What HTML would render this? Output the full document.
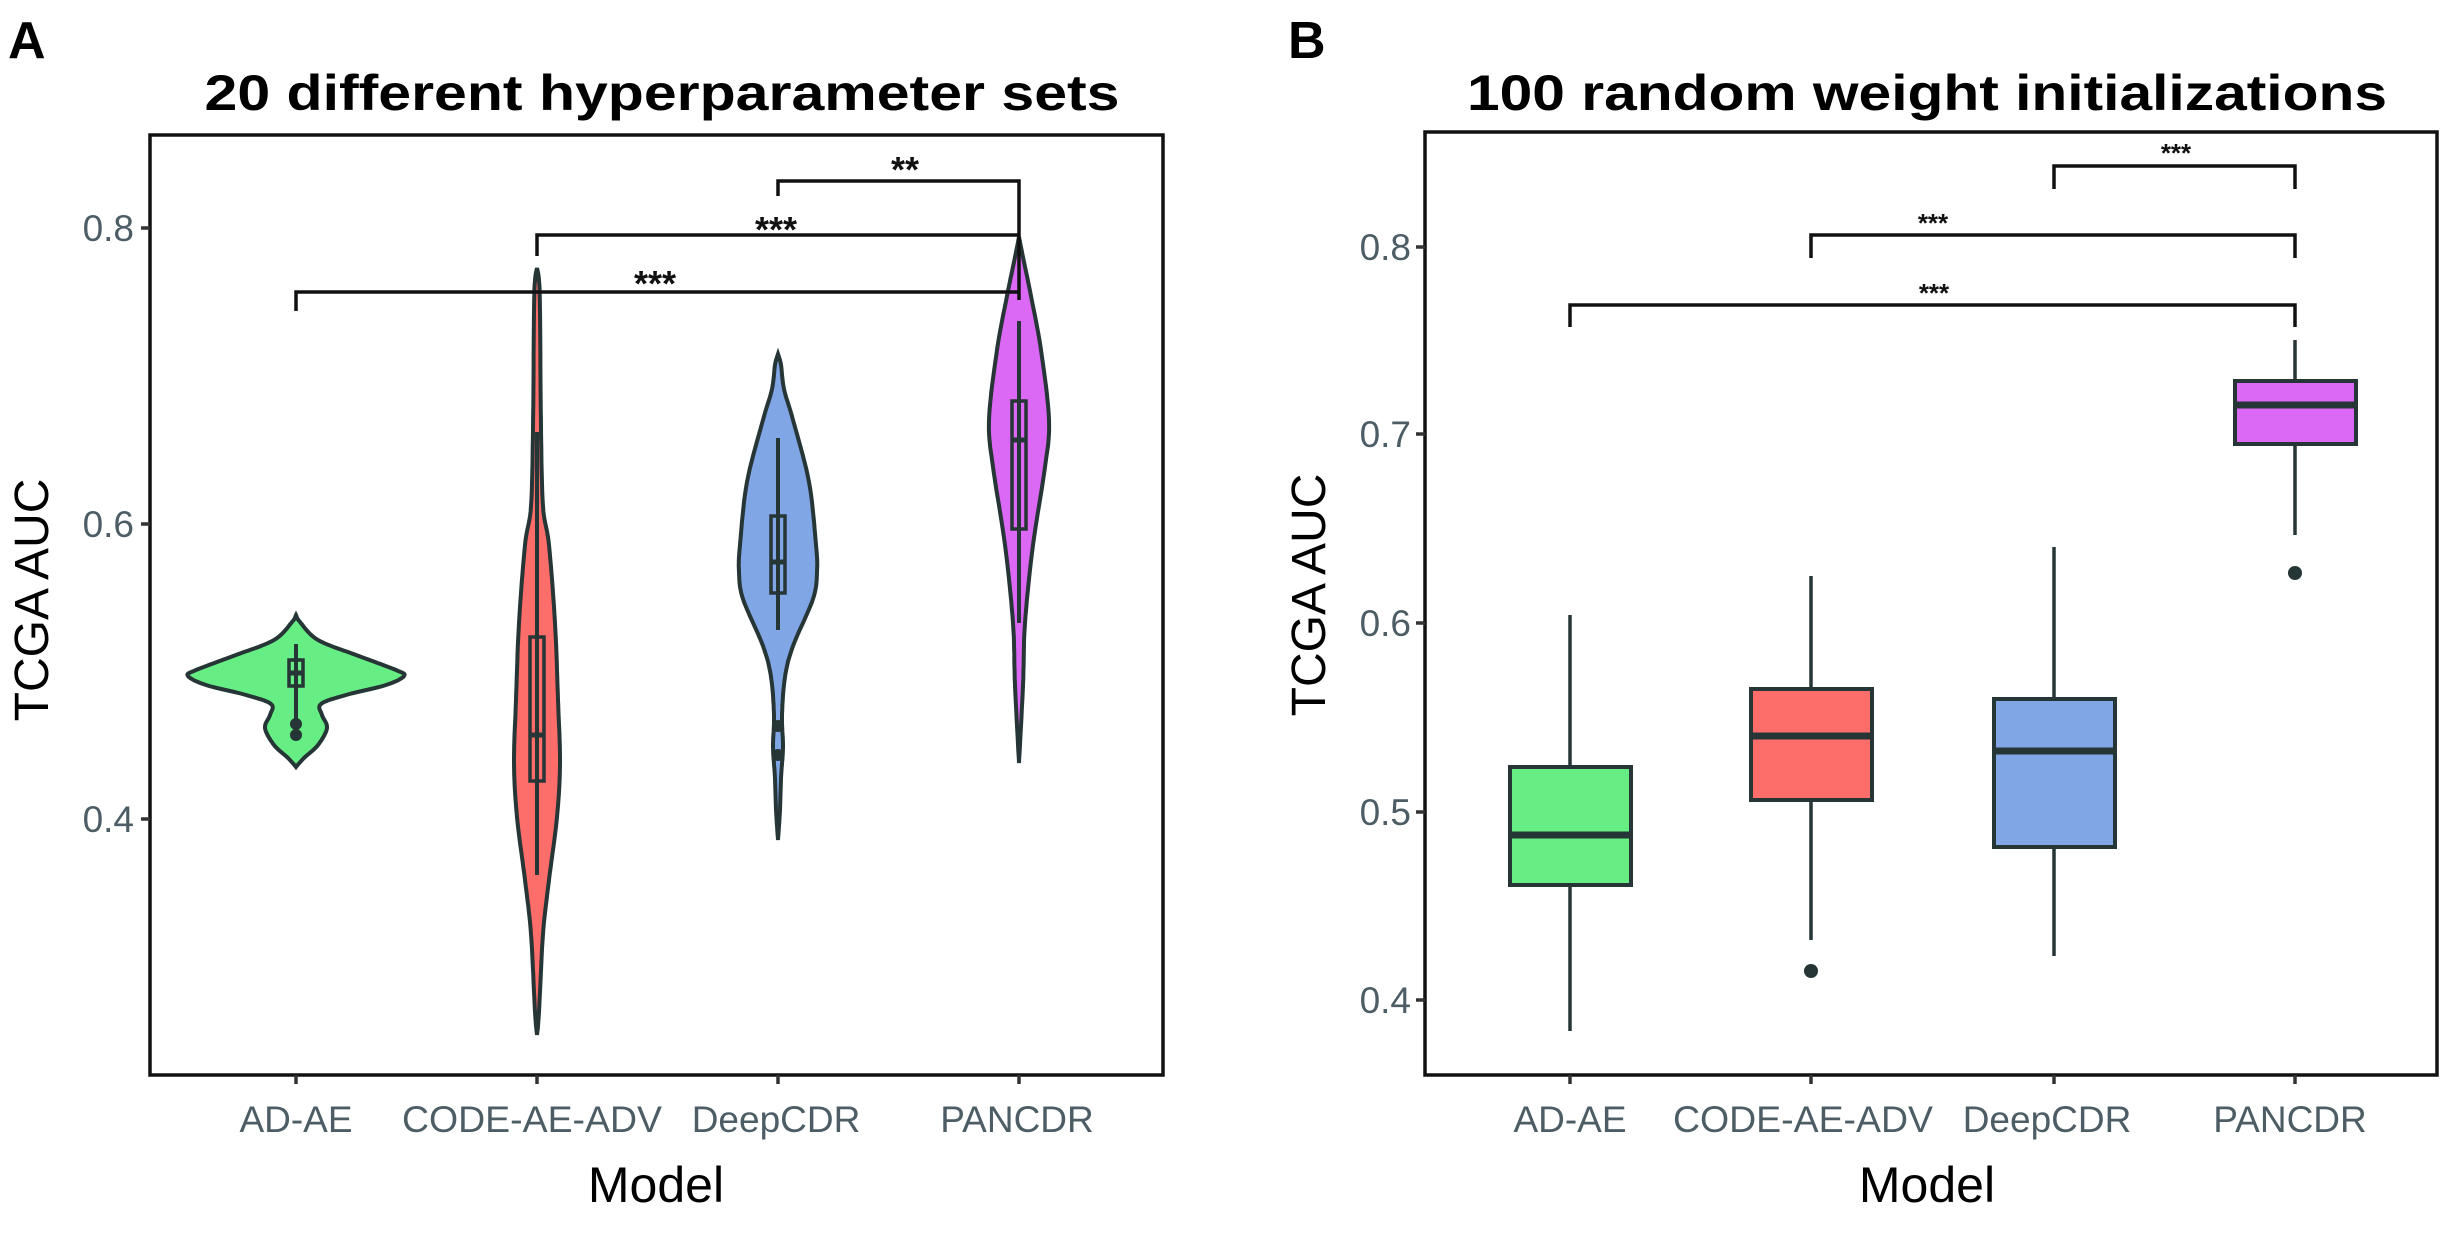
<!DOCTYPE html>
<html><head><meta charset="utf-8"><style>html,body{margin:0;padding:0;background:#fff}svg{display:block}</style></head>
<body>
<svg id="s" width="2440" height="1260" viewBox="0 0 2440 1260" xmlns="http://www.w3.org/2000/svg" font-family="Liberation Sans, sans-serif">
<rect width="2440" height="1260" fill="#fff"/>
<!-- Panel A -->
<text x="8" y="58" font-size="52" font-weight="bold">A</text>
<text x="662" y="110" font-size="50" font-weight="bold" text-anchor="middle" textLength="915" lengthAdjust="spacingAndGlyphs">20 different hyperparameter sets</text>
<rect x="150" y="135" width="1013" height="940" fill="none" stroke="#111" stroke-width="3.5"/>
<g fill="#4d5d66" font-size="37" text-anchor="end">
<text x="134" y="241">0.8</text><text x="134" y="537">0.6</text><text x="134" y="832">0.4</text></g>
<g stroke="#333" stroke-width="3.5"><line x1="141" y1="228" x2="150" y2="228"/><line x1="141" y1="524" x2="150" y2="524"/><line x1="141" y1="819" x2="150" y2="819"/>
<line x1="296" y1="1075" x2="296" y2="1084"/><line x1="537" y1="1075" x2="537" y2="1084"/><line x1="778" y1="1075" x2="778" y2="1084"/><line x1="1019" y1="1075" x2="1019" y2="1084"/></g>
<g fill="#4d5d66" font-size="37" text-anchor="middle">
<text x="296" y="1132">AD-AE</text><text x="532" y="1132" textLength="260" lengthAdjust="spacingAndGlyphs">CODE-AE-ADV</text><text x="776" y="1132">DeepCDR</text><text x="1017" y="1132">PANCDR</text></g>
<text x="656" y="1202" font-size="50" text-anchor="middle">Model</text>
<text transform="translate(48,600) rotate(-90)" font-size="48" text-anchor="middle">TCGA AUC</text>
<g id="violins"></g>
<g stroke="#111" stroke-width="3.5" fill="none">
<polyline points="778,196 778,181 1019,181 1019,300"/>
<polyline points="537,256 537,235 1019,235"/>
<polyline points="296,311 296,292 1019,292"/>
</g>
<g font-size="36" font-weight="bold" text-anchor="middle" fill="#111">
<text x="905" y="182">**</text><text x="776" y="242">***</text><text x="655" y="296">***</text></g>

<!-- Panel B -->
<text x="1288" y="58" font-size="52" font-weight="bold">B</text>
<text x="1927" y="110" font-size="50" font-weight="bold" text-anchor="middle" textLength="920" lengthAdjust="spacingAndGlyphs">100 random weight initializations</text>
<rect x="1425" y="132" width="1012" height="943" fill="none" stroke="#111" stroke-width="3.5"/>
<g fill="#4d5d66" font-size="37" text-anchor="end">
<text x="1411" y="260">0.8</text><text x="1411" y="447">0.7</text><text x="1411" y="636">0.6</text><text x="1411" y="825">0.5</text><text x="1411" y="1013">0.4</text></g>
<g stroke="#333" stroke-width="3.5"><line x1="1416" y1="247" x2="1425" y2="247"/><line x1="1416" y1="434" x2="1425" y2="434"/><line x1="1416" y1="623" x2="1425" y2="623"/><line x1="1416" y1="812" x2="1425" y2="812"/><line x1="1416" y1="1000" x2="1425" y2="1000"/>
<line x1="1570" y1="1075" x2="1570" y2="1084"/><line x1="1811" y1="1075" x2="1811" y2="1084"/><line x1="2054" y1="1075" x2="2054" y2="1084"/><line x1="2295" y1="1075" x2="2295" y2="1084"/></g>
<g fill="#4d5d66" font-size="37" text-anchor="middle">
<text x="1570" y="1132">AD-AE</text><text x="1803" y="1132" textLength="260" lengthAdjust="spacingAndGlyphs">CODE-AE-ADV</text><text x="2047" y="1132">DeepCDR</text><text x="2290" y="1132">PANCDR</text></g>
<text x="1927" y="1202" font-size="50" text-anchor="middle">Model</text>
<text transform="translate(1325,595) rotate(-90)" font-size="48" text-anchor="middle">TCGA AUC</text>
<g stroke="#263535" stroke-width="3.5">
<line x1="1570" y1="615" x2="1570" y2="1031"/><line x1="1811" y1="576" x2="1811" y2="940"/><line x1="2054" y1="547" x2="2054" y2="956"/><line x1="2295" y1="340" x2="2295" y2="535"/>
<rect x="1510" y="767" width="121" height="118" fill="#66ee84" stroke-width="4"/>
<rect x="1751" y="689" width="121" height="111" fill="#fd6d6a" stroke-width="4"/>
<rect x="1994" y="699" width="121" height="148" fill="#80a6e6" stroke-width="4"/>
<rect x="2235" y="381" width="121" height="63" fill="#dc69f5" stroke-width="4"/>
</g>
<g stroke="#263535" stroke-width="7">
<line x1="1510" y1="835" x2="1631" y2="835"/><line x1="1751" y1="736" x2="1872" y2="736"/><line x1="1994" y1="751" x2="2115" y2="751"/><line x1="2235" y1="405" x2="2356" y2="405"/></g>
<circle cx="1811" cy="971" r="7" fill="#263535"/><circle cx="2295" cy="573" r="7" fill="#263535"/>
<g stroke="#111" stroke-width="3.5" fill="none">
<polyline points="2054,189 2054,166 2295,166 2295,189"/>
<polyline points="1811,258 1811,235 2295,235 2295,258"/>
<polyline points="1570,327 1570,305 2295,305 2295,327"/></g>
<g font-size="26" font-weight="bold" text-anchor="middle" fill="#111">
<text x="2176" y="162">***</text><text x="1933" y="232">***</text><text x="1934" y="302">***</text></g>
</svg>
<script>
function cr(pts){
 var out=[];for(var i=0;i<pts.length-1;i++){var p0=pts[Math.max(0,i-1)],p1=pts[i],p2=pts[i+1],p3=pts[Math.min(pts.length-1,i+2)];
 for(var t=0;t<1;t+=0.1){var t2=t*t,t3=t2*t;var f=function(a,b,c,d){return 0.5*((2*b)+(-a+c)*t+(2*a-5*b+4*c-d)*t2+(-a+3*b-3*c+d)*t3)};
 out.push([f(p0[0],p1[0],p2[0],p3[0]),Math.max(0,f(p0[1],p1[1],p2[1],p3[1]))]);}}
 out.push(pts[pts.length-1]);return out;}
function violin(cx,pts,fill){var s=cr(pts);var d="M";s.forEach(function(p,i){d+=(i?"L":"")+(cx+p[1]).toFixed(1)+","+p[0].toFixed(1)});
 for(var i=s.length-1;i>=0;i--)d+="L"+(cx-s[i][1]).toFixed(1)+","+s[i][0].toFixed(1);return '<path d="'+d+'Z" fill="'+fill+'" stroke="#263535" stroke-width="4"/>';}
function box(cx,wt,t,m,b,wb,hw){return '<line x1="'+cx+'" y1="'+wt+'" x2="'+cx+'" y2="'+wb+'" stroke="#263535" stroke-width="4"/><rect x="'+(cx-hw)+'" y="'+t+'" width="'+2*hw+'" height="'+(b-t)+'" fill="none" stroke="#263535" stroke-width="3.5"/><line x1="'+(cx-hw)+'" y1="'+m+'" x2="'+(cx+hw)+'" y2="'+m+'" stroke="#263535" stroke-width="5"/>';}
var h="";
h+=violin(296,[[615,0],[622,4],[640,22],[655,60],[670,100],[676,108],[685,90],[695,50],[704,25],[715,26],[728,31],[745,22],[758,8],[767,0]],"#66ee84");
h+=box(296,644,660,673,686,735,7)+'<circle cx="296" cy="724" r="6" fill="#263535"/><circle cx="296" cy="735" r="6" fill="#263535"/>';
h+=violin(537,[[268,0],[280,2],[311,3],[428,4],[506,6],[545,12],[623,18],[700,21],[763,23],[817,20],[880,12],[934,6],[1012,2],[1035,0]],"#fd6d6a");
h+=box(537,432,637,735,781,875,7);
h+=violin(778,[[354,0],[365,3],[389,6],[420,15],[482,31],[545,38],[572,39],[599,35],[646,15],[677,7],[716,4],[747,5],[778,3],[810,2],[840,0]],"#80a6e6");
h+=box(778,438,516,562,593,630,7)+'<circle cx="778" cy="726" r="6" fill="#263535"/><circle cx="778" cy="755" r="6" fill="#263535"/>';
h+=violin(1019,[[237,0],[257,4],[296,12],[350,22],[420,30],[467,26],[545,14],[623,6],[685,4],[763,0]],"#dc69f5");
h+=box(1019,321,401,440,529,623,7);
document.getElementById("violins").innerHTML=h;
</script>
</body></html>
